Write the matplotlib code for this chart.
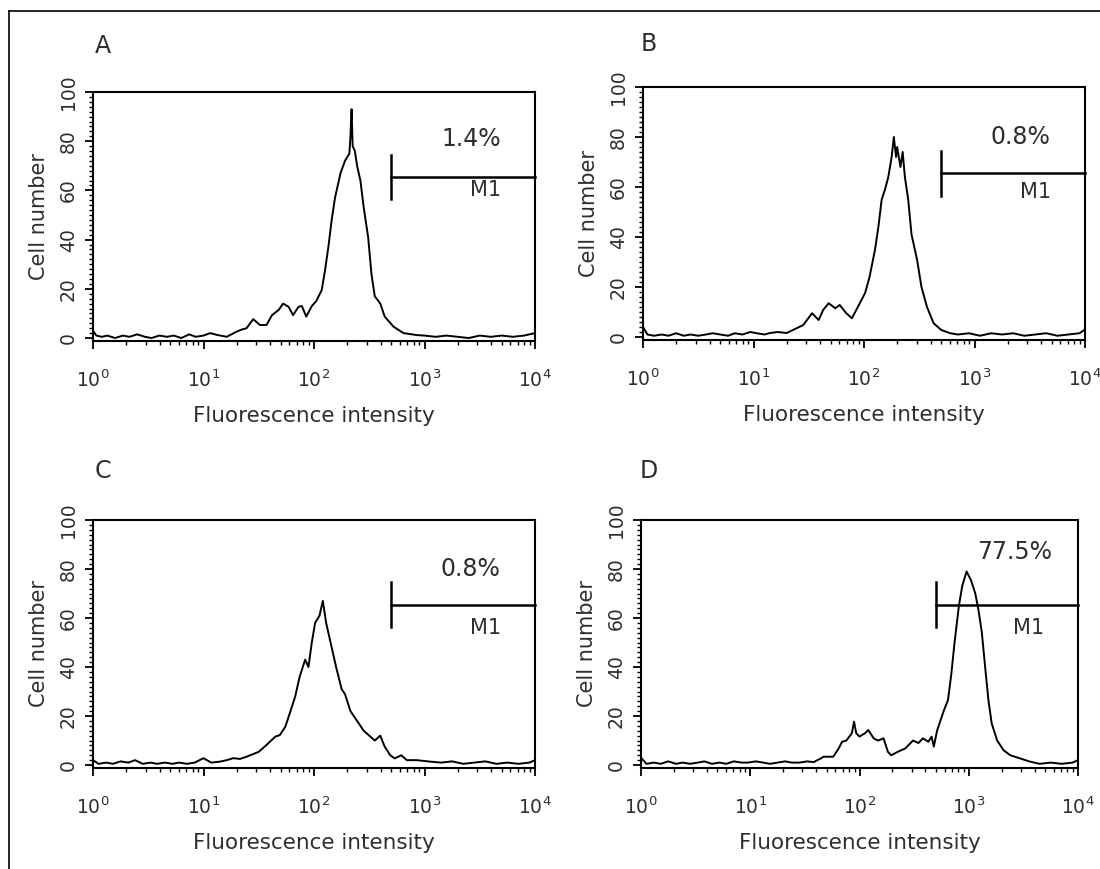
import matplotlib
matplotlib.use('Agg')
import matplotlib.pyplot as plt
from matplotlib.lines import Line2D
from matplotlib.ticker import MultipleLocator, LogLocator, NullFormatter
import numpy as np

plt.rcParams['font.family'] = ['DejaVu Sans']

# ---- data (log10 of fluorescence intensity, cell number) ----
a_log = [0.00, 0.03, 0.08, 0.13, 0.20, 0.27, 0.33, 0.40, 0.47, 0.53,
         0.60, 0.67, 0.73, 0.80, 0.87, 0.93, 1.00, 1.06, 1.13, 1.21,
         1.30, 1.35, 1.39, 1.45, 1.51, 1.57, 1.62, 1.68, 1.72, 1.77,
         1.81, 1.86, 1.89, 1.93, 1.98, 2.02, 2.07, 2.10, 2.13, 2.16,
         2.19, 2.24, 2.28, 2.32, 2.33, 2.34, 2.35, 2.37, 2.39, 2.42,
         2.45, 2.49, 2.52, 2.55, 2.60, 2.64, 2.72, 2.81, 2.93, 3.00,
         3.10, 3.20, 3.30, 3.40, 3.50, 3.60, 3.70, 3.80, 3.90, 4.00]
a_count = [3, 1, 0.5, 1, 0, 1, 0.5, 1.5, 0.5, 0,
           1, 0.5, 1, 0, 1.5, 0.5, 1, 2, 1.2, 0.5,
           2.6, 3.5, 4, 7.7, 5.3, 5.3, 9.3, 11.4, 14, 12.7,
           9.3, 12.7, 13, 8.7, 13, 15, 19.5, 27.6, 37, 48,
           57, 67, 72, 75, 82, 93, 78, 76, 70, 64,
           53, 41, 26, 17, 14, 8.7, 4.6, 2, 1.2, 1,
           0.5, 1, 0.5, 0, 1, 0.5, 1, 0.5, 1, 2]

b_log = [0.00, 0.04, 0.10, 0.17, 0.23, 0.30, 0.37, 0.43, 0.50, 0.57,
         0.63, 0.70, 0.77, 0.83, 0.90, 0.97, 1.03, 1.10, 1.15, 1.22,
         1.30, 1.39, 1.45, 1.53, 1.59, 1.63, 1.68, 1.74, 1.78, 1.84,
         1.89, 1.93, 2.01, 2.05, 2.10, 2.13, 2.16, 2.19, 2.22, 2.25,
         2.27, 2.29, 2.30, 2.33, 2.35, 2.37, 2.40, 2.43, 2.48, 2.52,
         2.57, 2.63, 2.70, 2.78, 2.85, 2.95, 3.05, 3.15, 3.25, 3.35,
         3.45, 3.55, 3.65, 3.75, 3.85, 3.95, 4.00]
b_count = [4, 1, 0.5, 1, 0.5, 1.5, 0.5, 1, 0.5, 1,
           1.5, 1, 0.5, 1.5, 1, 2, 1.5, 1, 1.6, 2,
           1.6, 3.5, 4.8, 9.5, 6.8, 10.8, 13.5, 11.5, 12.8, 9.5,
           7.5, 10.8, 17.6, 24, 35, 44, 55, 59, 64, 72,
           80, 72, 76, 68, 74, 64, 55, 41, 31, 20,
           12, 5.5, 2.8, 1.5, 1, 1.5, 0.5, 1.5, 1, 1.5,
           0.5, 1, 1.5, 0.5, 1, 1.5, 3]

c_log = [0.00, 0.05, 0.12, 0.18, 0.25, 0.32, 0.38, 0.45, 0.52, 0.58,
         0.65, 0.72, 0.78, 0.85, 0.92, 1.00, 1.07, 1.15, 1.21, 1.27,
         1.33, 1.39, 1.45, 1.50, 1.57, 1.65, 1.69, 1.74, 1.78, 1.83,
         1.87, 1.92, 1.95, 1.98, 2.01, 2.05, 2.08, 2.11, 2.13, 2.16,
         2.20, 2.25, 2.28, 2.33, 2.39, 2.45, 2.51, 2.55, 2.60, 2.64,
         2.69, 2.73, 2.79, 2.84, 2.93, 3.05, 3.15, 3.25, 3.35, 3.45,
         3.55, 3.65, 3.75, 3.85, 3.95, 4.00]
c_count = [2, 0.5, 1, 0.5, 1.5, 1, 2, 0.5, 1, 0.5,
           1, 0.5, 1, 0.5, 1, 2.8, 1, 1.4, 2, 2.8,
           2.5, 3.4, 4.5, 5.4, 8.2, 11.6, 12.2, 15.6, 21, 28,
           36, 43, 40, 50, 58, 61, 67, 58, 54, 48,
           40, 31, 29, 22, 18, 14, 11.6, 10, 12, 7.5,
           4, 2.7, 4, 2, 2, 1.4, 1, 1.5, 0.5, 1,
           1.5, 0.5, 1, 0.5, 1, 2]

d_log = [0.00, 0.05, 0.12, 0.18, 0.25, 0.32, 0.38, 0.45, 0.52, 0.58,
         0.65, 0.72, 0.78, 0.85, 0.92, 0.98, 1.05, 1.12, 1.18, 1.25,
         1.32, 1.38, 1.45, 1.52, 1.58, 1.65, 1.67, 1.76, 1.81, 1.84,
         1.88, 1.93, 1.95, 1.97, 2.00, 2.05, 2.08, 2.13, 2.17, 2.22,
         2.26, 2.29, 2.35, 2.42, 2.45, 2.49, 2.54, 2.58, 2.63, 2.66,
         2.68, 2.71, 2.74, 2.77, 2.81, 2.84, 2.87, 2.91, 2.94, 2.98,
         3.02, 3.06, 3.09, 3.12, 3.15, 3.18, 3.21, 3.26, 3.32, 3.38,
         3.47, 3.56, 3.65, 3.75, 3.85, 3.95, 4.00]
d_count = [3, 0.5, 1, 0.5, 1.5, 0.5, 1, 0.5, 1, 1.5,
           0.5, 1, 0.5, 1.5, 1, 1, 1.5, 1, 0.5, 1,
           1.5, 1, 1, 1.5, 1.2, 2.8, 3.4, 3.4, 6.8, 9.5,
           10, 13, 17.7, 13, 11.6, 13, 14.3, 10.9, 10, 10.9,
           5.4, 4, 5.4, 6.8, 8.2, 10, 9, 10.9, 9.5, 11.6,
           7.5, 14, 18, 22, 26.5, 37, 50, 65, 73, 79,
           75.5, 70, 63, 54, 40, 26.5, 17, 10, 6, 4,
           2.7, 1.4, 0.5, 1, 0.5, 1, 2]

panel_letters = ['A', 'B', 'C', 'D']
percent_labels = ['1.4%', '0.8%', '0.8%', '77.5%']
gate_start = [500, 500, 500, 500]
gate_level = [65.5, 65.5, 65.5, 65.5]
percent_y = [81, 80, 80, 87]
m1_y = [60, 58, 56, 56]

curves = [(a_log, a_count), (b_log, b_count), (c_log, c_count), (d_log, d_count)]

# axes boxes in pixels: left, right, top, bottom
boxes = [(93, 535, 92, 340.5), (643, 1085, 87, 339.5),
         (93, 535, 520, 767.5), (641, 1078, 520, 767.5)]
letter_pos = [(103, 46), (649, 44), (103, 471), (649, 471)]

W, H = 1100, 869
fig = plt.figure(figsize=(11, 8.69), dpi=100)
txt = '#2e2e2e'

for i in range(4):
    l, r, t, b = boxes[i]
    ax = fig.add_axes([l / W, 1 - b / H, (r - l) / W, (b - t) / H])
    lg, cnt = curves[i]
    ax.plot(10 ** np.array(lg), cnt, color='black', lw=1.4)
    ax.set_xscale('log')
    ax.set_xlim(1, 1e4)
    ax.set_ylim(-1, 100)

    # gate marker M1
    g0 = gate_start[i]
    gy = gate_level[i]
    ax.plot([g0, 1e4], [gy, gy], color='black', lw=1.8, clip_on=False)
    ax.plot([g0, g0], [gy - 9, gy + 9], color='black', lw=1.8)
    ax.text(10 ** 3.42, percent_y[i], percent_labels[i], ha='center', va='center',
            fontsize=17, color=txt)
    ax.text(10 ** 3.55, m1_y[i], 'M1', ha='center', va='center', fontsize=15, color=txt)

    for s in ax.spines.values():
        s.set_linewidth(1.5)

    ax.yaxis.set_major_locator(MultipleLocator(20))
    ax.yaxis.set_minor_locator(MultipleLocator(2))
    ax.xaxis.set_major_locator(LogLocator(base=10, numticks=10))
    ax.xaxis.set_minor_locator(LogLocator(base=10, subs=np.arange(2, 10), numticks=10))
    ax.xaxis.set_minor_formatter(NullFormatter())
    ax.tick_params(which='major', direction='out', length=6, width=1.3, colors='black',
                   labelcolor=txt, labelsize=13.5)
    ax.tick_params(which='minor', direction='out', length=3, width=1.0)
    ax.tick_params(axis='y', labelrotation=90, pad=5)
    ax.tick_params(axis='x', pad=15)
    for lab in ax.get_yticklabels():
        lab.set_va('center')

    ax.set_ylabel('Cell number', fontsize=15, color=txt, labelpad=7)
    ax.set_xlabel('Fluorescence intensity', fontsize=15.5, color=txt, labelpad=11)

    lx, ly = letter_pos[i]
    fig.text(lx / W, 1 - ly / H, panel_letters[i], fontsize=17,
             color=txt, ha='center', va='center')

# frame lines of the figure (top and left)
fig.add_artist(Line2D([9 / W, 1], [1 - 11 / H, 1 - 11 / H], transform=fig.transFigure,
                      color='black', lw=1.2))
fig.add_artist(Line2D([9 / W, 9 / W], [0, 1 - 11 / H], transform=fig.transFigure,
                      color='black', lw=1.2))

fig.savefig('out.png', dpi=100)
